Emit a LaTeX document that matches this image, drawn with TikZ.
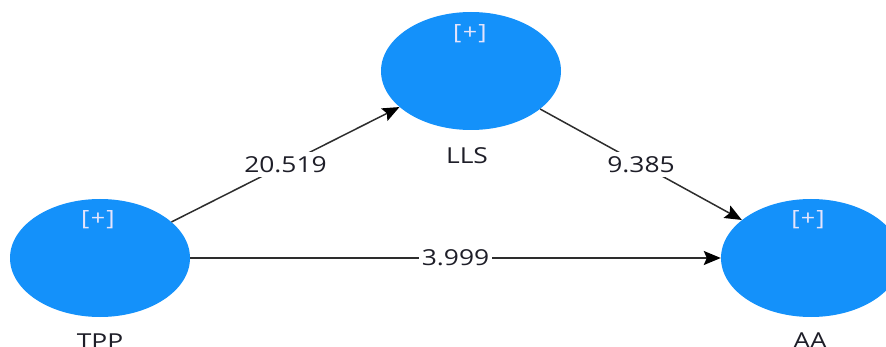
\documentclass[tikz,border=0pt]{standalone}
\usepackage{fontspec}
\setmainfont{Open Sans}
\newfontfamily\lblfont[FakeStretch=1.2]{Open Sans}
\newfontfamily\plusfont[FakeStretch=1.2,LetterSpace=6]{Open Sans}
\usetikzlibrary{shapes.geometric,arrows.meta}
\definecolor{lvblue}{RGB}{20,145,250}
\definecolor{lvtext}{RGB}{30,30,40}
\definecolor{lvline}{RGB}{45,45,45}
\definecolor{lvplus}{RGB}{228,228,252}
\tikzset{
  latent/.style={ellipse, fill=lvblue, draw=none, minimum width=180pt, minimum height=118pt, inner sep=0pt},
  varname/.style={text=lvtext, font=\lblfont\fontsize{22}{26}\selectfont, inner sep=0pt},
  plusmark/.style={text=lvplus, font=\plusfont\fontsize{21}{24}\selectfont, inner sep=0pt},
  edge/.style={draw=lvline, line width=1.5pt, -{Stealth[length=17pt,width=14pt,inset=3pt,color=black]}},
  tval/.style={text=lvtext, font=\lblfont\fontsize{22}{26}\selectfont, fill=white, inner xsep=3pt, inner ysep=4pt},
}
\begin{document}
\begin{tikzpicture}[x=1pt,y=-1pt]
  \useasboundingbox (0,0) rectangle (886,347);
  % latent variables
  \node[latent] (LLS) at (471,71) {};
  \node[latent] (TPP) at (100,258) {};
  \node[latent] (AA)  at (811,258) {};
  % collapse markers
  \node[plusmark] (LLSp) at (470,34) {[+]};
  \node[plusmark] (TPPp) at (98,220) {[+]};
  \node[plusmark] (AAp)  at (808,220) {[+]};
  % variable names
  \node[varname] (LLSn) at (467,156) {LLS};
  \node[varname] (TPPn) at (100,342) {TPP};
  \node[varname] (AAn)  at (810,341) {AA};
  % paths with t-values
  \draw[edge] (TPP) -- node[tval] (v1) {20.519} (LLS);
  \draw[edge] (LLS) -- node[tval] (v2) {9.385} (AA);
  \draw[edge] (TPP) -- node[tval] (v3) {3.999} (AA);
\end{tikzpicture}
\end{document}
